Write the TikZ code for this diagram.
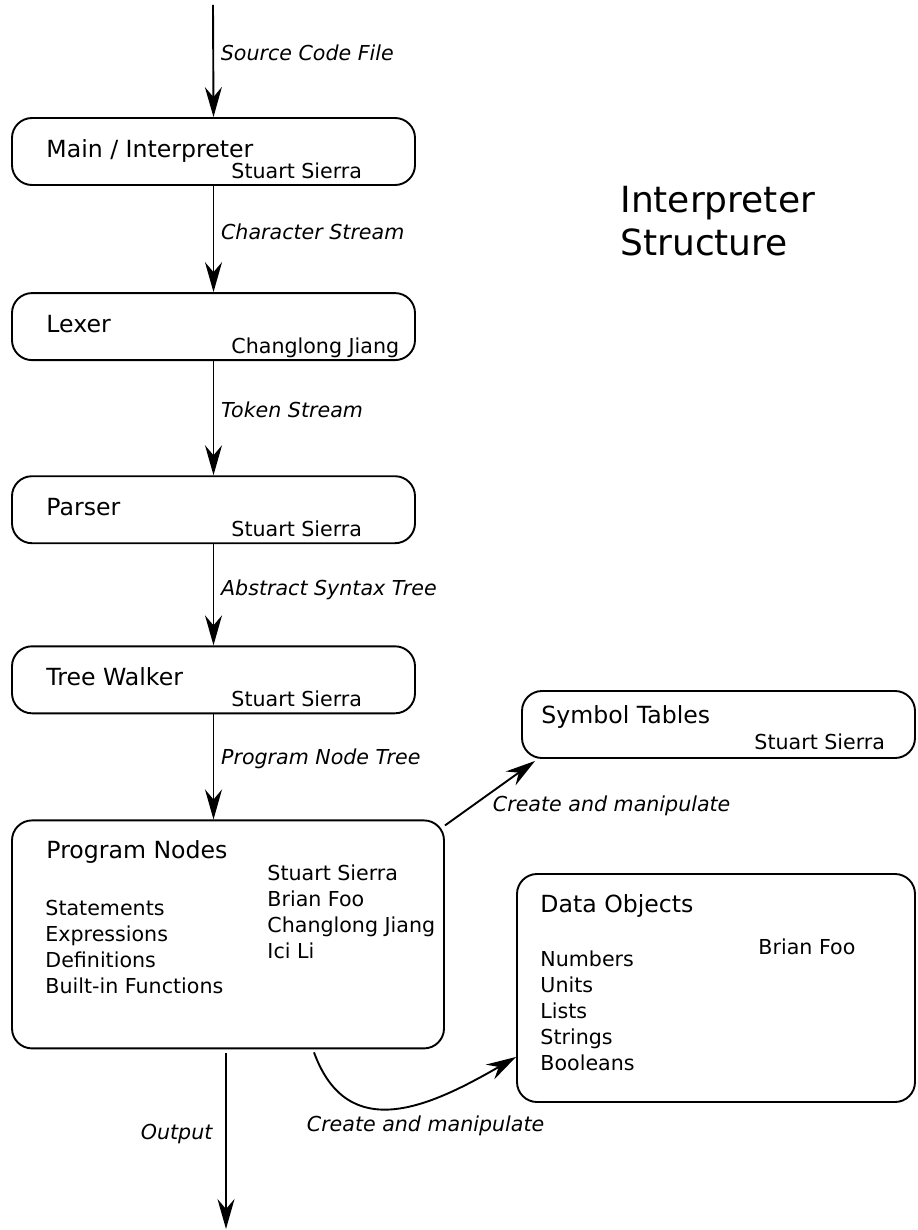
\documentclass[tikz,border=0pt]{standalone}
\usepackage{fontspec}
\setmainfont{DejaVu Sans}
\usetikzlibrary{arrows.meta, positioning}
\tikzstyle{stage} = [rectangle, rounded corners=10pt, minimum width=201.5pt, minimum height=33.5pt, draw=black, line width=0.95pt]
\tikzstyle{bigstage} = [stage, minimum height=114pt]
\tikzstyle{heading} = [inner sep=0pt, anchor=base west, font=\fontsize{11.8}{14}\selectfont]
\tikzstyle{who} = [inner sep=0pt, anchor=base west, font=\fontsize{10.3}{13}\selectfont]
\tikzstyle{items} = [inner sep=0pt, anchor=north west, align=left, font=\fontsize{10.3}{13}\selectfont]
\tikzstyle{flowtext} = [font=\fontsize{10.3}{13}\selectfont\itshape]
\tikzstyle{arrow} = [line width=0.95pt, -{Stealth[length=15pt, width=8.5pt, inset=5pt]}]

\begin{document}
\begin{tikzpicture}[x=0.5pt, y=-0.5pt]
		\useasboundingbox (0,0) rectangle (917,1230);

		\node (main) [stage] at (213.5,151.5) {};
		\node (lexer) [stage, below=53.1pt of main] {};
		\node (parser) [stage, below=57.1pt of lexer] {};
		\node (walker) [stage, below=50.6pt of parser] {};
		\node (prog) [bigstage, minimum width=216pt, below right=52.6pt and 0pt of walker.south west] {};
		\node (symtab) [stage, minimum width=196.5pt] at (718.5,724.5) {};
		\node (data) [bigstage, minimum width=199pt] at (716,988) {};

		\node (maintitle) [heading] at ([shift={(35,40)}]main.north west) {Main / Interpreter};
		\node (mainwho) [who] at ([shift={(220,61)}]main.north west) {Stuart Sierra};
		\node (lexertitle) [heading] at ([shift={(35,40)}]lexer.north west) {Lexer};
		\node (lexerwho) [who] at ([shift={(220,61)}]lexer.north west) {Changlong Jiang};
		\node (parsertitle) [heading] at ([shift={(35,40)}]parser.north west) {Parser};
		\node (parserwho) [who] at ([shift={(220,61)}]parser.north west) {Stuart Sierra};
		\node (walkertitle) [heading] at ([shift={(35,40)}]walker.north west) {Tree Walker};
		\node (walkerwho) [who] at ([shift={(220,61)}]walker.north west) {Stuart Sierra};

		\node (progtitle) [heading] at ([shift={(35,39)}]prog.north west) {Program Nodes};
		\node (progitems) [items] at ([shift={(34,80)}]prog.north west) {Statements\\Expressions\\Definitions\\Built-in Functions};
		\node (progwho) [items] at ([shift={(256,45)}]prog.north west) {Stuart Sierra\\Brian Foo\\Changlong Jiang\\Ici Li};

		\node (symtabtitle) [heading] at ([shift={(20,33)}]symtab.north west) {Symbol Tables};
		\node (symtabwho) [who] at ([shift={(233,59)}]symtab.north west) {Stuart Sierra};

		\node (datatitle) [heading] at ([shift={(24,39)}]data.north west) {Data Objects};
		\node (dataitems) [items] at ([shift={(24,77)}]data.north west) {Numbers\\Units\\Lists\\Strings\\Booleans};
		\node (datawho) [who] at ([shift={(242,81)}]data.north west) {Brian Foo};

		\node (caption) [inner sep=0pt, anchor=north west, align=left, font=\fontsize{18}{21.5}\selectfont] at (620,186) {Interpreter\\Structure};

		\coordinate (srcin) at (213,5);
		\coordinate (outend) at (226,1229);

		\draw [arrow] (srcin) -- node[flowtext, right, pos=0.43] {Source Code File} (main.north);
		\draw [arrow] (main) -- node[flowtext, right, pos=0.43] {Character Stream} (lexer);
		\draw [arrow] (lexer) -- node[flowtext, right, pos=0.43] {Token Stream} (parser);
		\draw [arrow] (parser) -- node[flowtext, right, pos=0.45] {Abstract Syntax Tree} (walker);
		\draw [arrow] (walker) -- node[flowtext, right, pos=0.42] {Program Node Tree} (walker.south |- prog.north);
		\draw [arrow] ([yshift=-3pt]prog.north east) -- node[flowtext, pos=0.5, below right, inner sep=1pt] {Create and manipulate} ([xshift=7pt, yshift=-1pt]symtab.south west);
		\draw [arrow] ([xshift=43pt, yshift=-1.5pt]prog.south) to[out=-70, in=210, looseness=1.25] node[flowtext, below, pos=0.5, xshift=15pt] {Create and manipulate} ([yshift=23pt]data.south west);
		\draw [arrow] ([xshift=-1pt, yshift=-2pt]prog.south) -- node[flowtext, left=3pt, pos=0.46] {Output} (outend);
\end{tikzpicture}
\end{document}
